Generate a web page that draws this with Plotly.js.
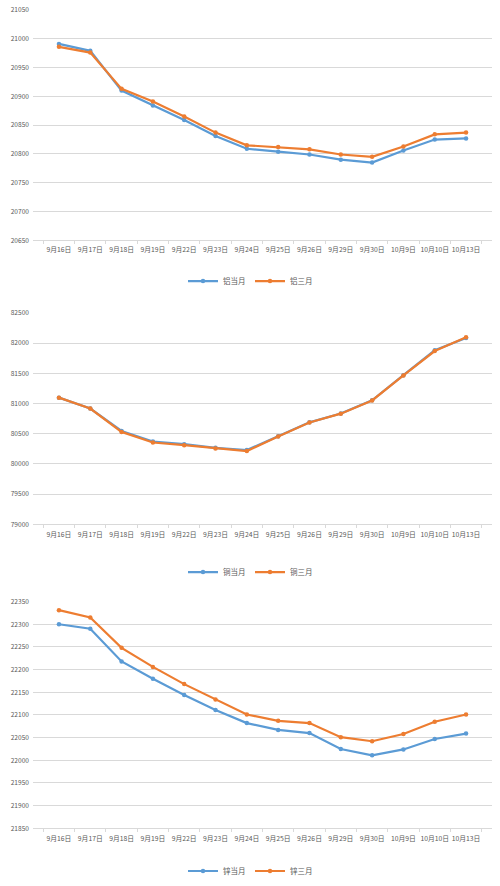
<!DOCTYPE html>
<html>
<head>
<meta charset="utf-8">
<script src="https://cdn.plot.ly/plotly-3.0.1.min.js"></script>
<style>
  html, body { margin: 0; padding: 0; background: #fff; }
  #chart { width: 500px; height: 886px; }
</style>
</head>
<body>
<div id="chart"></div>
<script>
// Categories (trading days)
const dates = ['9月16日', '9月17日', '9月18日', '9月19日', '9月22日', '9月23日', '9月24日',
               '9月25日', '9月26日', '9月29日', '9月30日', '10月9日', '10月10日', '10月13日'];

// Aluminium
const alCurrent = [20991, 20979, 20910, 20884, 20859, 20831, 20809, 20804, 20799, 20790, 20785, 20806, 20825, 20827];
const alThree   = [20986, 20976, 20913, 20891, 20865, 20837, 20815, 20812, 20808, 20799, 20795, 20813, 20834, 20837];

// Copper
const cuCurrent = [81097, 80917, 80546, 80371, 80327, 80267, 80229, 80459, 80688, 80835, 81054, 81468, 81880, 82085];
const cuThree   = [81097, 80917, 80530, 80355, 80311, 80257, 80213, 80455, 80685, 80832, 81050, 81465, 81868, 82095];

// Zinc
const znCurrent = [22300, 22290, 22218, 22180, 22144, 22111, 22082, 22067, 22060, 22025, 22011, 22024, 22047, 22059];
const znThree   = [22331, 22315, 22248, 22206, 22168, 22134, 22101, 22087, 22082, 22051, 22042, 22058, 22085, 22101];

const blue = '#5b9bd5';
const orange = '#ed7d31';
const font = 'Noto Sans CJK SC, sans-serif';

function series(name, y, color, n) {
  const sfx = n === 1 ? '' : String(n);
  return {
    x: dates, y: y, name: name,
    type: 'scatter', mode: 'lines+markers',
    xaxis: 'x' + sfx, yaxis: 'y' + sfx,
    legend: 'legend' + sfx,
    line: { color: color, width: 2.2 },
    marker: { color: color, size: 4.5 }
  };
}

const traces = [
  series('铝当月', alCurrent, blue, 1),
  series('铝三月', alThree, orange, 1),
  series('铜当月', cuCurrent, blue, 2),
  series('铜三月', cuThree, orange, 2),
  series('锌当月', znCurrent, blue, 3),
  series('锌三月', znThree, orange, 3)
];

function xAxis(anchor) {
  return {
    anchor: anchor, domain: [0.066, 0.984],
    type: 'category', showgrid: false,
    showline: true, linecolor: '#d9d9d9', linewidth: 1,
    ticks: 'outside', tickson: 'boundaries', ticklen: 3, tickcolor: '#d9d9d9',
    tickangle: 0, tickfont: { size: 6.8, color: '#595959', family: font },
    ticklabelstandoff: 3,
    fixedrange: true
  };
}

function yAxis(anchor, domain, range, dtick) {
  return {
    anchor: anchor, domain: domain, range: range, dtick: dtick,
    tickformat: 'd',
    showgrid: true, gridcolor: '#d9d9d9', gridwidth: 1,
    zeroline: false, showline: false, ticks: '',
    tickfont: { size: 6.6, color: '#595959', family: font },
    ticklabelstandoff: 3,
    fixedrange: true
  };
}

function legendAt(y) {
  return {
    orientation: 'h', x: 0.5, xanchor: 'center', y: y, yanchor: 'middle',
    font: { size: 7.5, color: '#595959', family: font },
    bgcolor: 'rgba(0,0,0,0)', itemwidth: 30,
    entrywidth: 22, entrywidthmode: 'pixels'
  };
}

const layout = {
  width: 500, height: 886,
  margin: { t: 0, r: 0, b: 0, l: 0 },
  paper_bgcolor: '#fff', plot_bgcolor: '#fff',
  font: { family: font },
  showlegend: true,
  xaxis: xAxis('y'),
  yaxis: yAxis('x', [0.7269, 0.9887], [20650, 21050], 50),
  xaxis2: xAxis('y2'),
  yaxis2: yAxis('x2', [0.4041, 0.6445], [79000, 82500], 500),
  xaxis3: xAxis('y3'),
  yaxis3: yAxis('x3', [0.0587, 0.3164], [21850, 22350], 50),
  legend: legendAt(0.6806),
  legend2: legendAt(0.3499),
  legend3: legendAt(0.0102)
};

Plotly.newPlot('chart', traces, layout, { displayModeBar: false, staticPlot: true });
</script>
</body>
</html>
